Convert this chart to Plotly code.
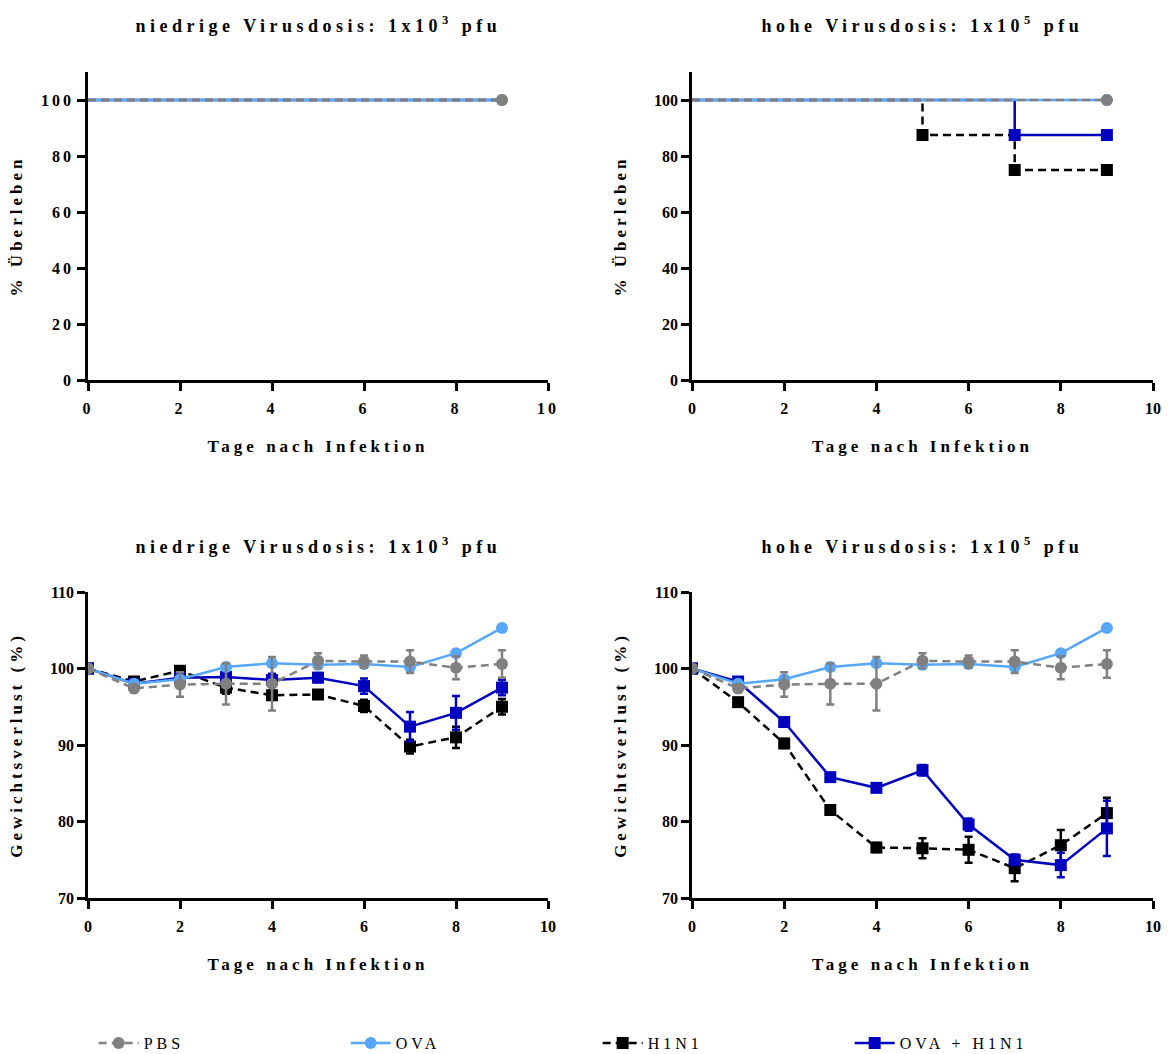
import plotly.graph_objects as go

# ---------------- data ----------------
days = [0, 1, 2, 3, 4, 5, 6, 7, 8, 9]

# weight (% of initial)
pbs_weight = [100, 97.4, 97.9, 98.0, 98.0, 101.0, 100.9, 100.9, 100.1, 100.6]
pbs_err = [0, 0.5, 1.6, 2.7, 3.5, 1.0, 0.8, 1.5, 1.5, 1.8]
ova_weight = [100, 98.0, 98.6, 100.2, 100.7, 100.5, 100.6, 100.2, 102.0, 105.3]
ova_err = [0, 0.3, 0.3, 0.3, 0.3, 0.3, 0.3, 0.3, 0.3, 0.3]

h1n1_low = [100, 98.3, 99.7, 97.5, 96.5, 96.6, 95.1, 89.8, 91.0, 95.0]
h1n1_low_err = [0, 0.4, 0.6, 0.8, 0.6, 0.5, 0.8, 0.9, 1.4, 1.0]
ova_h1n1_low = [100, 98.0, 98.8, 98.9, 98.5, 98.8, 97.7, 92.4, 94.2, 97.5]
ova_h1n1_low_err = [0, 0.4, 0.5, 0.6, 0.8, 0.6, 1.0, 1.9, 2.2, 1.0]

h1n1_high = [100, 95.6, 90.2, 81.5, 76.6, 76.5, 76.3, 73.9, 76.9, 81.1]
h1n1_high_err = [0, 0.5, 0.6, 0.5, 0.6, 1.3, 1.7, 1.7, 2.0, 2.0]
ova_h1n1_high = [100, 98.3, 93.0, 85.8, 84.4, 86.7, 79.6, 75.0, 74.3, 79.1]
ova_h1n1_high_err = [0, 0.5, 0.5, 0.5, 0.5, 0.7, 0.8, 0.7, 1.6, 3.6]

# survival (%), step curves
surv_days_ctrl = [0, 9]
surv_ctrl = [100, 100]
surv_low_days = [0, 9]
surv_low = [100, 100]
surv_h1n1_high_days = [0, 5, 7, 9]
surv_h1n1_high = [100, 87.5, 75, 75]
surv_ova_h1n1_high_days = [0, 7, 9]
surv_ova_h1n1_high = [100, 87.5, 87.5]

groups = ["PBS", "OVA", "H1N1", "OVA + H1N1"]
titles = ["niedrige Virusdosis: 1x10<sup>3</sup> pfu", "hohe Virusdosis: 1x10<sup>5</sup> pfu"]
x_title = "Tage nach Infektion"
y_title_surv = "% Überleben"
y_title_weight = "Gewichtsverlust (%)"

# ---------------- style ----------------
C_PBS = "#808080"
C_OVA = "#56A6FA"
C_H1N1 = "#000000"
C_OH = "#0000BE"
FONT = "Liberation Serif"

style = {
    "PBS": dict(color=C_PBS, dash="8px,5px", symbol="circle", size=12),
    "OVA": dict(color=C_OVA, dash="solid", symbol="circle", size=12),
    "H1N1": dict(color=C_H1N1, dash="8px,5px", symbol="square", size=12),
    "OVA + H1N1": dict(color=C_OH, dash="solid", symbol="square", size=12),
}

fig = go.Figure()


def add_survival(x, y, name, xa, ya, msize=None):
    s = style[name]
    ms = s["size"] if msize is None else msize
    sizes = [0] + [ms] * (len(x) - 1)
    fig.add_trace(go.Scatter(
        x=x, y=y, mode="lines+markers", name=name, showlegend=False,
        line=dict(color=s["color"], dash=s["dash"], width=2.5, shape="hv"),
        marker=dict(symbol=s["symbol"], size=sizes, color=s["color"], opacity=1,
                    line=dict(width=0)),
        xaxis=xa, yaxis=ya))


def add_weight(y, err, name, xa, ya, legend=False):
    s = style[name]
    fig.add_trace(go.Scatter(
        x=days, y=y, mode="lines+markers", name=name, showlegend=legend,
        line=dict(color=s["color"], dash=s["dash"], width=2.5),
        marker=dict(symbol=s["symbol"], size=s["size"], color=s["color"], opacity=1,
                    line=dict(width=0)),
        error_y=dict(type="data", array=err, visible=True, color=s["color"],
                     thickness=2.5, width=4),
        xaxis=xa, yaxis=ya))


# top-left survival (low dose)
add_survival(surv_low_days, surv_low, "H1N1", "x", "y", msize=8)
add_survival(surv_low_days, surv_low, "OVA + H1N1", "x", "y", msize=8)
add_survival(surv_days_ctrl, surv_ctrl, "OVA", "x", "y")
add_survival(surv_days_ctrl, surv_ctrl, "PBS", "x", "y")
# top-right survival (high dose)
add_survival(surv_h1n1_high_days, surv_h1n1_high, "H1N1", "x2", "y2")
add_survival(surv_ova_h1n1_high_days, surv_ova_h1n1_high, "OVA + H1N1", "x2", "y2")
add_survival(surv_days_ctrl, surv_ctrl, "OVA", "x2", "y2")
add_survival(surv_days_ctrl, surv_ctrl, "PBS", "x2", "y2")
# bottom-left weight (low dose)
add_weight(h1n1_low, h1n1_low_err, "H1N1", "x3", "y3")
add_weight(ova_h1n1_low, ova_h1n1_low_err, "OVA + H1N1", "x3", "y3")
add_weight(ova_weight, ova_err, "OVA", "x3", "y3")
add_weight(pbs_weight, pbs_err, "PBS", "x3", "y3")
# bottom-right weight (high dose) -> carries legend entries
add_weight(h1n1_high, h1n1_high_err, "H1N1", "x4", "y4", True)
add_weight(ova_h1n1_high, ova_h1n1_high_err, "OVA + H1N1", "x4", "y4", True)
add_weight(ova_weight, ova_err, "OVA", "x4", "y4", True)
add_weight(pbs_weight, pbs_err, "PBS", "x4", "y4", True)

W, H = 1171, 1054
xl = [88 / W, 548 / W]
xr = [692 / W, 1153 / W]
yt = [1 - 380 / H, 1 - 72 / H]
yb = [1 - 898 / H, 1 - 592 / H]

tickfont = dict(family=FONT, size=16, color="black", weight="bold")
titlefont = dict(family=FONT, size=17, color="black", weight="bold")


def xaxis(dom, anchor):
    return dict(domain=dom, anchor=anchor, range=[0, 10], tickvals=[0, 2, 4, 6, 8, 10],
                showline=True, linecolor="black", linewidth=2.5, ticks="outside",
                ticklen=8, tickwidth=2.5, tickcolor="black", showgrid=False, zeroline=False,
                automargin=False, ticklabelstandoff=4,
                tickfont=tickfont, title=dict(text=x_title, font=titlefont, standoff=25))


def yaxis(dom, anchor, rng, tv, title):
    return dict(domain=dom, anchor=anchor, range=rng, tickvals=tv,
                showline=True, linecolor="black", linewidth=2.5, ticks="outside",
                ticklen=8, tickwidth=2.5, tickcolor="black", showgrid=False, zeroline=False,
                automargin=False,
                tickfont=tickfont, title=dict(text=title, font=titlefont, standoff=24))


fig.update_layout(
    width=W, height=H,
    margin=dict(l=0, r=0, t=0, b=0, autoexpand=False),
    paper_bgcolor="white", plot_bgcolor="white",
    font=dict(family=FONT, color="black"),
    xaxis=xaxis(xl, "y"), yaxis=yaxis(yt, "x", [0, 110], [0, 20, 40, 60, 80, 100], y_title_surv),
    xaxis2=xaxis(xr, "y2"), yaxis2=yaxis(yt, "x2", [0, 110], [0, 20, 40, 60, 80, 100], y_title_surv),
    xaxis3=xaxis(xl, "y3"), yaxis3=yaxis(yb, "x3", [70, 110], [70, 80, 90, 100, 110], y_title_weight),
    xaxis4=xaxis(xr, "y4"), yaxis4=yaxis(yb, "x4", [70, 110], [70, 80, 90, 100, 110], y_title_weight),
    legend=dict(orientation="h", x=0.08, y=1 - 1043 / H, xanchor="left", yanchor="middle",
                traceorder="normal", entrywidth=197, entrywidthmode="pixels",
                font=dict(family=FONT, size=16, color="black"), itemwidth=40),
    showlegend=True,
)

# legend order: PBS, OVA, H1N1, OVA + H1N1
order = {"PBS": 1, "OVA": 2, "H1N1": 3, "OVA + H1N1": 4}
for tr in fig.data:
    tr.legendrank = order[tr.name]

annots = []
for i, (dom, yv) in enumerate([(xl, 1 - 25 / H), (xr, 1 - 25 / H), (xl, 1 - 545 / H), (xr, 1 - 545 / H)]):
    annots.append(dict(text=titles[i % 2], x=(dom[0] + dom[1]) / 2, y=yv, xref="paper", yref="paper",
                       xanchor="center", yanchor="middle", showarrow=False,
                       font=dict(family=FONT, size=18, color="black", weight="bold")))
fig.update_layout(annotations=annots)

post = """
var gd = document.getElementById('{plot_id}');
function ls(){
  gd.querySelectorAll('.annotation-text').forEach(function(e){e.style.letterSpacing='4.5px';});
  gd.querySelectorAll('.xtick text, .ytick text').forEach(function(e){e.style.letterSpacing='3px';});
  gd.querySelectorAll('.xtitle, .ytitle, .x2title, .y2title, .x3title, .y3title, .x4title, .y4title').forEach(function(e){e.style.letterSpacing='4px';});
  gd.querySelectorAll('.legendtext').forEach(function(e){e.style.letterSpacing='4px';});
}
ls();
gd.on('plotly_afterplot', ls);
"""

fig.write_html("out.html", post_script=post)
